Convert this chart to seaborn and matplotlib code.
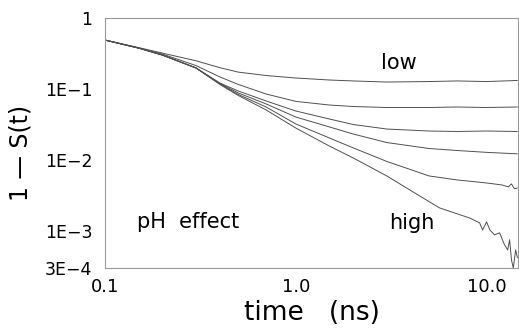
import numpy as np
import pandas as pd
import seaborn as sns
import matplotlib.pyplot as plt

# time points (ns) shared by the smoother curves
t_main = [0.1, 0.15, 0.2, 0.3, 0.4, 0.5, 0.7, 1.0, 1.5, 2.0, 3.0, 5.0, 7.0, 10.0, 14.5]

# 1 - S(t), from "low" pH (top) to "high" pH (bottom)
curve_1 = [0.49, 0.384, 0.321, 0.250, 0.200, 0.173, 0.155, 0.143, 0.134, 0.130, 0.1255, 0.1275, 0.130, 0.1275, 0.132]
curve_2 = [0.49, 0.378, 0.311, 0.214, 0.148, 0.116, 0.085, 0.067, 0.0595, 0.0567, 0.0549, 0.0549, 0.0558, 0.0549, 0.0558]
curve_3 = [0.49, 0.378, 0.301, 0.198, 0.1215, 0.0937, 0.0678, 0.049, 0.0378, 0.0316, 0.0273, 0.0256, 0.0252, 0.0256, 0.0252]
curve_4 = [0.49, 0.378, 0.301, 0.198, 0.120, 0.0879, 0.0615, 0.0403, 0.0292, 0.0232, 0.0176, 0.0145, 0.0136, 0.0128, 0.0122]

t_5 = [0.1, 0.15, 0.2, 0.3, 0.4, 0.5, 0.7, 1.0, 1.5, 2.0, 3.0, 5.0, 7.0, 10.0, 12.0, 13.0, 13.5, 14.0, 14.5]
curve_5 = [0.49, 0.378, 0.301, 0.198, 0.118, 0.0837, 0.0557, 0.0322, 0.0204, 0.0148, 0.00953, 0.00595,
           0.00523, 0.00474, 0.00445, 0.00418, 0.0046, 0.00393, 0.00403]

t_6 = [0.1, 0.15, 0.2, 0.3, 0.4, 0.5, 0.7, 1.0, 1.5, 2.0, 3.0, 4.46, 5.67, 6.8, 8.15, 9.19, 9.53,
       10.0, 10.4, 11.0, 11.7, 12.4, 12.9, 13.2, 13.5, 13.8, 14.2, 14.5]
curve_6 = [0.49, 0.378, 0.301, 0.198, 0.116, 0.081, 0.0506, 0.0282, 0.0157, 0.01067, 0.00595, 0.00311,
           0.00211, 0.00179, 0.00152, 0.0013, 0.00103, 0.00134, 0.00103, 0.00088, 0.00094, 0.00064,
           0.00054, 0.00075, 0.00039, 0.0003, 0.00054, 0.00042]

y_ticks = [1, 1e-1, 1e-2, 1e-3, 3e-4]
y_tick_labels = ["1", "1E\u22121", "1E\u22122", "1E\u22123", "3E\u22124"]
x_ticks = [0.1, 1.0, 10.0]
x_tick_labels = ["0.1", "1.0", "10.0"]

sns.set_style("white")
plt.rcParams["font.family"] = ["DejaVu Sans"]
plt.rcParams["text.color"] = "black"
plt.rcParams["axes.labelcolor"] = "black"
plt.rcParams["xtick.color"] = "black"
plt.rcParams["ytick.color"] = "black"

fig = plt.figure(figsize=(5.19, 3.35), dpi=100)
ax = fig.add_axes([0.2023, 0.2, 0.7957, 0.746])

series = [(t_main, curve_1), (t_main, curve_2), (t_main, curve_3),
          (t_main, curve_4), (t_5, curve_5), (t_6, curve_6)]
for t, v in series:
    sns.lineplot(x=t, y=v, ax=ax, color="#505050", lw=0.7)

ax.set_xscale("log")
ax.set_yscale("log")
ax.set_xlim(0.1, 14.6)
ax.set_ylim(3e-4, 1)

ax.set_xticks(x_ticks)
ax.set_xticklabels(x_tick_labels)
ax.set_yticks(y_ticks)
ax.set_yticklabels(y_tick_labels)
ax.minorticks_off()
ax.tick_params(axis="y", direction="in", length=3, width=0.6, color="#888", labelsize=12.5, pad=9)
ax.tick_params(axis="x", direction="in", length=0, labelsize=13, pad=7)

for s in ax.spines.values():
    s.set_color("#999999")
    s.set_linewidth(0.8)

ax.set_xlabel("time   (ns)", fontsize=19, labelpad=3)
ax.set_ylabel("1 \u2014 S(t)", fontsize=17, va="center")
ax.yaxis.set_label_coords(-0.205, 0.46)

ax.text(2.8, 0.232, "low", fontsize=15, va="center")
ax.text(3.1, 0.0013, "high", fontsize=15, va="center")
ax.text(0.147, 0.00134, "pH  effect", fontsize=15, va="center")

fig.savefig("out.png", dpi=100)
